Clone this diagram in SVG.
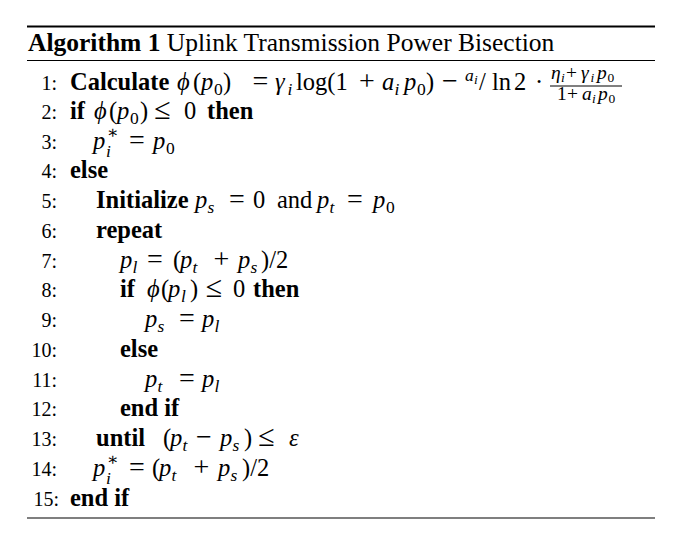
<svg xmlns="http://www.w3.org/2000/svg" width="677" height="549" viewBox="0 0 677 549">
<style>
text { font-family: "Liberation Serif", "DejaVu Serif", serif; fill: #000; font-size: 24.5px; }
.b { font-weight: bold; }
.i { font-style: italic; }
.n { font-size: 20px; text-anchor: end; }
.s { font-size: 17.5px; }
.f { font-size: 19.5px; }
.ss { font-size: 13.5px; }
.op { font-size: 28px; }
.le { font-size: 30px; }
.rule { stroke: #000; }
</style>
<rect width="677" height="549" fill="#fff"/>
<line class="rule" x1="27" y1="26.5" x2="655" y2="26.5" stroke-width="2"/>
<line class="rule" x1="27" y1="60.5" x2="655" y2="60.5" stroke-width="1.2"/>
<line class="rule" x1="27" y1="518" x2="655" y2="518" stroke-width="1.2"/>

<text id="title" x="28" y="51" style="font-size:25.5px"><tspan class="b">Algorithm 1</tspan> Uplink Transmission Power Bisection</text>

<g id="line-numbers">
<text class="n" x="57" y="90">1:</text>
<text class="n" x="57" y="119">2:</text>
<text class="n" x="57" y="149">3:</text>
<text class="n" x="57" y="178">4:</text>
<text class="n" x="57" y="208">5:</text>
<text class="n" x="57" y="238">6:</text>
<text class="n" x="57" y="268">7:</text>
<text class="n" x="57" y="297">8:</text>
<text class="n" x="57" y="327">9:</text>
<text class="n" x="57" y="357">10:</text>
<text class="n" x="57" y="387">11:</text>
<text class="n" x="57" y="416">12:</text>
<text class="n" x="57" y="446">13:</text>
<text class="n" x="57" y="476">14:</text>
<text class="n" x="59" y="506">15:</text>
</g>

<g id="line1">
<text y="90"><tspan x="70" class="b">Calculate</tspan><tspan x="177" class="i">ϕ</tspan><tspan x="193">(</tspan><tspan x="201" class="i">p</tspan><tspan x="214" y="95" class="s">0</tspan><tspan x="223" y="90">)</tspan><tspan x="252.6" class="op">=</tspan><tspan x="275" class="i">γ</tspan><tspan x="287.5" y="95" class="s i">i</tspan><tspan x="296" y="90">log(1</tspan><tspan x="359" class="op">+</tspan><tspan x="382" class="i">a</tspan><tspan x="394.5" y="95" class="s i">i</tspan><tspan x="404" y="90" class="i">p</tspan><tspan x="417" y="95" class="s">0</tspan><tspan x="426" y="90">)</tspan><tspan x="442.1" class="op">−</tspan><tspan x="465" y="81" class="s i">a</tspan><tspan x="474" y="84" class="ss i">i</tspan><tspan x="479" y="90">/</tspan><tspan x="492">ln</tspan><tspan x="514">2</tspan><tspan x="535">·</tspan></text>
<text y="79" class="f"><tspan x="551" class="i">η</tspan><tspan x="561" y="82" class="ss i">i</tspan><tspan x="566" y="79">+</tspan><tspan x="581" class="i">γ</tspan><tspan x="590.5" y="82" class="ss i">i</tspan><tspan x="597" y="79" class="i">p</tspan><tspan x="607.5" y="82" class="ss">0</tspan></text>
<line class="rule" x1="550" y1="86" x2="622" y2="86" stroke-width="1"/>
<text y="100" class="f"><tspan x="557">1</tspan><tspan x="567">+</tspan><tspan x="582" class="i">a</tspan><tspan x="592" y="103" class="ss i">i</tspan><tspan x="598" y="100" class="i">p</tspan><tspan x="608.5" y="103" class="ss">0</tspan></text>
</g>

<g id="line2">
<text y="119"><tspan x="70" class="b">if</tspan><tspan x="94" class="i">ϕ</tspan><tspan x="109">(</tspan><tspan x="117" class="i">p</tspan><tspan x="130" y="124" class="s">0</tspan><tspan x="140" y="119">)</tspan><tspan x="154.3" class="le">≤</tspan><tspan x="184">0</tspan><tspan x="207" class="b">then</tspan></text>
</g>

<g id="line3">
<text y="149"><tspan x="93" class="i">p</tspan><tspan x="107" y="138" class="s">∗</tspan><tspan x="106" y="157" class="s i">i</tspan><tspan x="129.1" y="149" class="op">=</tspan><tspan x="153" class="i">p</tspan><tspan x="166" y="154" class="s">0</tspan></text>
</g>

<g id="line4">
<text y="178"><tspan x="70" class="b">else</tspan></text>
</g>

<g id="line5">
<text y="208"><tspan x="96" class="b">Initialize</tspan><tspan x="195" class="i">p</tspan><tspan x="207.5" y="213" class="s i">s</tspan><tspan x="229.1" y="208" class="op">=</tspan><tspan x="253">0</tspan><tspan x="277">and</tspan><tspan x="317" class="i">p</tspan><tspan x="329.5" y="213" class="s i">t</tspan><tspan x="347.1" y="208" class="op">=</tspan><tspan x="373" class="i">p</tspan><tspan x="386" y="213" class="s">0</tspan></text>
</g>

<g id="line6">
<text y="238"><tspan x="96" class="b">repeat</tspan></text>
</g>

<g id="line7">
<text y="268"><tspan x="120" class="i">p</tspan><tspan x="132.5" y="273" class="s i">l</tspan><tspan x="147.1" y="268" class="op">=</tspan><tspan x="173">(</tspan><tspan x="180" class="i">p</tspan><tspan x="192.5" y="273" class="s i">t</tspan><tspan x="213.6" y="268" class="op">+</tspan><tspan x="238" class="i">p</tspan><tspan x="250.5" y="273" class="s i">s</tspan><tspan x="261" y="268">)/2</tspan></text>
</g>

<g id="line8">
<text y="297"><tspan x="120" class="b">if</tspan><tspan x="147" class="i">ϕ</tspan><tspan x="161">(</tspan><tspan x="168" class="i">p</tspan><tspan x="181" y="302" class="s i">l</tspan><tspan x="190" y="297">)</tspan><tspan x="205.8" class="le">≤</tspan><tspan x="233">0</tspan><tspan x="253" class="b">then</tspan></text>
</g>

<g id="line9">
<text y="327"><tspan x="145" class="i">p</tspan><tspan x="157.5" y="332" class="s i">s</tspan><tspan x="179.1" y="327" class="op">=</tspan><tspan x="202" class="i">p</tspan><tspan x="214.5" y="332" class="s i">l</tspan></text>
</g>

<g id="line10">
<text y="357"><tspan x="120" class="b">else</tspan></text>
</g>

<g id="line11">
<text y="387"><tspan x="145" class="i">p</tspan><tspan x="157.5" y="392" class="s i">t</tspan><tspan x="179.1" y="387" class="op">=</tspan><tspan x="202" class="i">p</tspan><tspan x="214.5" y="392" class="s i">l</tspan></text>
</g>

<g id="line12">
<text y="416"><tspan x="120" class="b">end if</tspan></text>
</g>

<g id="line13">
<text y="446"><tspan x="96" class="b">until</tspan><tspan x="163">(</tspan><tspan x="170" class="i">p</tspan><tspan x="182.5" y="451" class="s i">t</tspan><tspan x="196.1" y="446" class="op">−</tspan><tspan x="220" class="i">p</tspan><tspan x="232.5" y="451" class="s i">s</tspan><tspan x="244" y="446">)</tspan><tspan x="258.3" class="le">≤</tspan><tspan x="289" class="i">ε</tspan></text>
</g>

<g id="line14">
<text y="476"><tspan x="93" class="i">p</tspan><tspan x="107" y="465" class="s">∗</tspan><tspan x="106" y="484" class="s i">i</tspan><tspan x="129.1" y="476" class="op">=</tspan><tspan x="152">(</tspan><tspan x="159" class="i">p</tspan><tspan x="171.5" y="481" class="s i">t</tspan><tspan x="193.6" y="476" class="op">+</tspan><tspan x="218" class="i">p</tspan><tspan x="230.5" y="481" class="s i">s</tspan><tspan x="242" y="476">)/2</tspan></text>
</g>

<g id="line15">
<text y="506"><tspan x="70" class="b">end if</tspan></text>
</g>
</svg>
